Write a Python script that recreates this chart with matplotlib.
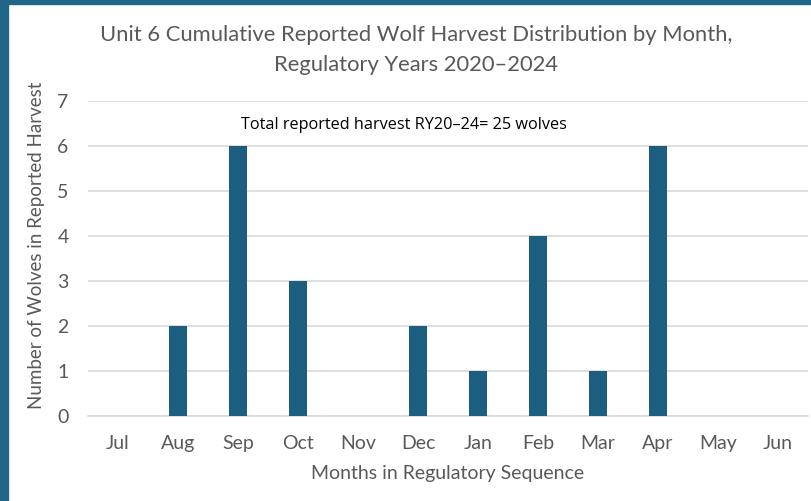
import matplotlib
matplotlib.use("Agg")
import matplotlib.pyplot as plt
from matplotlib.patches import Rectangle

months = ["Jul", "Aug", "Sep", "Oct", "Nov", "Dec", "Jan", "Feb", "Mar", "Apr", "May", "Jun"]
harvest = [0, 2, 6, 3, 0, 2, 1, 4, 1, 6, 0, 0]
yticks = [0, 1, 2, 3, 4, 5, 6, 7]

title = "Unit 6 Cumulative Reported Wolf Harvest Distribution by Month,\nRegulatory Years 2020\u20132024"
note = "Total reported harvest RY20\u201324= 25 wolves"

plt.rcParams["font.family"] = ["Lato", "DejaVu Sans"]

W, H = 812, 501
fig = plt.figure(figsize=(W / 100, H / 100), dpi=100)
fig.patch.set_facecolor("white")

# frame stripes
fig.add_artist(Rectangle((0, 0), 8 / W, 1, transform=fig.transFigure, color="#1f6689", zorder=0))
fig.add_artist(Rectangle((0, 1 - 4 / H), 1, 4 / H, transform=fig.transFigure, color="#1f6689", zorder=0))

ax = fig.add_axes([88 / W, 1 - 416 / H, 720 / W, 315 / H])
x = list(range(len(months)))
ax.bar(x, harvest, width=0.31, color="#1b5e80", zorder=3)
ax.set_xlim(-0.5, len(months) - 0.5)
ax.set_ylim(0, 7)
ax.set_yticks(yticks)
ax.set_xticks(x)
ax.set_xticklabels(months)
ax.grid(axis="y", color="#d9d9d9", linewidth=1.2, zorder=0)
for s in ["top", "right", "left"]:
    ax.spines[s].set_visible(False)
ax.spines["bottom"].set_color("#d9d9d9")
ax.spines["bottom"].set_linewidth(1.2)
ax.tick_params(axis="both", length=0, labelsize=14, labelcolor="#595959", pad=14)
ax.tick_params(axis="x", pad=14)
ax.set_ylabel("Number of Wolves in Reported Harvest", fontsize=13.5, color="#595959")
ax.yaxis.set_label_coords((45 - 88) / 720, (416 - 245) / 315)
ax.set_xlabel("Months in Regulatory Sequence", fontsize=14, color="#595959", labelpad=9)

fig.text(416 / W, 1 - 50 / H, title, ha="center", va="center", fontsize=15.8, color="#595959",
         linespacing=1.65)
ax.text(2.05, 6.47, note, ha="left", va="center", fontsize=11.7, color="black", family="Open Sans")

fig.savefig("out.png", dpi=100, facecolor="white")
